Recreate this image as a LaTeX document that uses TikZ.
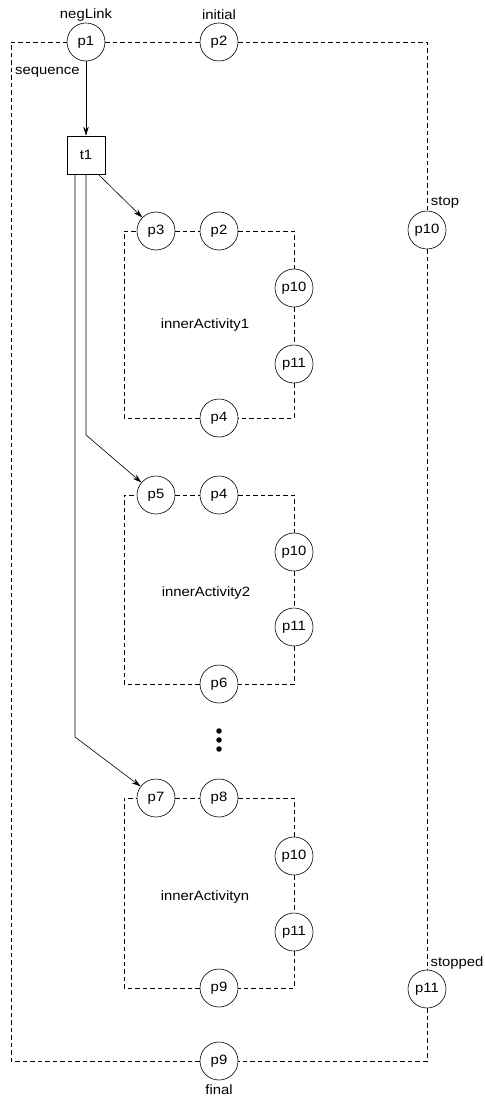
\documentclass[tikz,border=0pt]{standalone}
\usepackage{fontspec}
\setmainfont{Liberation Sans}[FakeStretch=1.1]
\usetikzlibrary{arrows.meta}
\begin{document}
\begin{tikzpicture}[x=1pt,y=-1pt,
  place/.style={circle,draw,line width=0.6pt,fill=white,minimum size=38pt,inner sep=0pt,font=\fontsize{13.5}{15}\selectfont},
  trans/.style={rectangle,draw,line width=0.6pt,fill=white,minimum size=38pt,inner sep=0pt,font=\fontsize{13.5}{15}\selectfont},
  lbl/.style={inner sep=0pt,font=\fontsize{13.5}{15}\selectfont},
  dsh/.style={dashed,dash pattern=on 4.5pt off 3pt,line width=0.6pt},
  arc/.style={line width=0.6pt,-{Stealth[length=9pt,width=5.5pt]}},
  dot/.style={circle,fill=black,inner sep=0pt,minimum size=5.5pt}]
\useasboundingbox (0,0) rectangle (484,1099);
% outer
\coordinate (oTL) at (11,42);
\coordinate (oBL) at (11,1061);
\node[place] (p1) at (86,42) {p1};
\node[place] (p2) at (219,42) {p2};
\node[place] (p10) at (427,230) {p10};
\node[place] (p11) at (427,989) {p11};
\node[place] (p9) at (219,1061) {p9};
\node[lbl] (lneg) at (86,15) {negLink};
\node[lbl] (linit) at (219,15) {initial};
\node[lbl,anchor=west] (lseq) at (15,72) {sequence};
\node[lbl] (lstop) at (445,203) {stop};
\node[lbl] (lstopped) at (457,963) {stopped};
\node[lbl] (lfinal) at (219,1090) {final};
\draw[dsh] (p1) -- (p2);
\draw[dsh] (p2) -| (p10);
\draw[dsh] (p10) -- (p11);
\draw[dsh] (p11) |- (p9);
\draw[dsh] (p9) -- (oBL) -- (oTL) -- (p1);
% t1
\node[trans] (t1) at (86,155) {t1};
\draw[arc] (p1) -- (t1);
% inner 1
\coordinate (aTL) at (124,231);
\coordinate (aBL) at (124,418);
\node[place] (a3) at (156,231) {p3};
\node[place] (a2) at (219,231) {p2};
\node[place] (a10) at (294,288) {p10};
\node[place] (a11) at (294,364) {p11};
\node[place] (a4) at (219,418) {p4};
\node[lbl] (la) at (205,325) {innerActivity1};
\draw[dsh] (a3) -- (a2);
\draw[dsh] (a2) -| (a10);
\draw[dsh] (a10) -- (a11);
\draw[dsh] (a11) |- (a4);
\draw[dsh] (a4) -- (aBL) -- (aTL) -- (a3);
% inner 2
\coordinate (bTL) at (124,495);
\coordinate (bBL) at (124,684);
\node[place] (b5) at (156,495) {p5};
\node[place] (b4) at (219,495) {p4};
\node[place] (b10) at (294,552) {p10};
\node[place] (b11) at (294,627) {p11};
\node[place] (b6) at (219,684) {p6};
\node[lbl] (lb) at (206,593) {innerActivity2};
\draw[dsh] (b5) -- (b4);
\draw[dsh] (b4) -| (b10);
\draw[dsh] (b10) -- (b11);
\draw[dsh] (b11) |- (b6);
\draw[dsh] (b6) -- (bBL) -- (bTL) -- (b5);
% dots
\node[dot] (d1) at (219,731) {};
\node[dot] (d2) at (219,740) {};
\node[dot] (d3) at (219,749) {};
% inner 3
\coordinate (cTL) at (124,798);
\coordinate (cBL) at (124,988);
\node[place] (c7) at (156,798) {p7};
\node[place] (c8) at (219,798) {p8};
\node[place] (c10) at (294,856) {p10};
\node[place] (c11) at (294,932) {p11};
\node[place] (c9) at (219,988) {p9};
\node[lbl] (lc) at (205,897) {innerActivityn};
\draw[dsh] (c7) -- (c8);
\draw[dsh] (c8) -| (c10);
\draw[dsh] (c10) -- (c11);
\draw[dsh] (c11) |- (c9);
\draw[dsh] (c9) -- (cBL) -- (cTL) -- (c7);
% arcs from t1
\coordinate (k2) at (86,435);
\coordinate (k3) at (75,737);
\draw[arc] (t1.south east) ++(-7,0) -- (a3);
\draw[arc] (t1.south) -- (k2) -- (b5);
\draw[arc] (t1.south -| k3) -- (k3) -- (c7);
\end{tikzpicture}
\end{document}
